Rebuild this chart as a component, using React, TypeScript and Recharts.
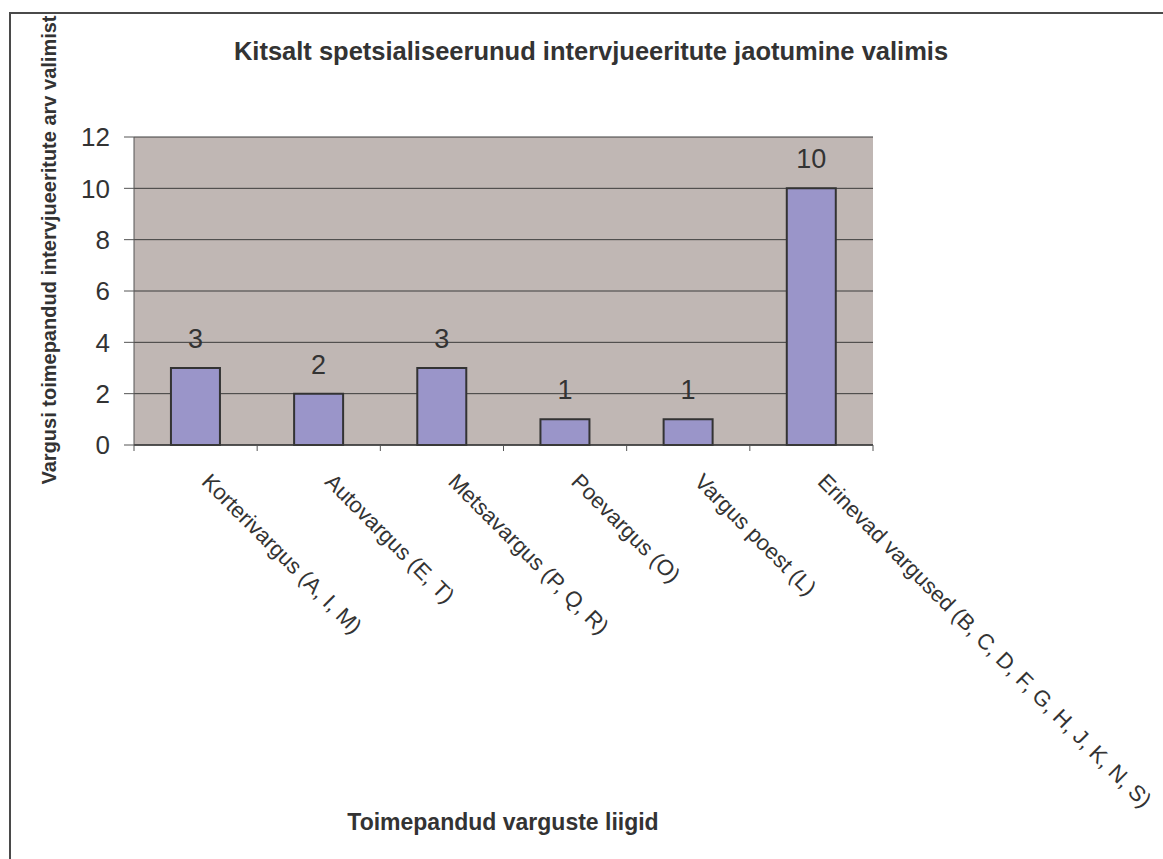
import { Bar, BarChart, CartesianGrid, LabelList, XAxis, YAxis } from "recharts";

const categories = [
  "Korterivargus (A, I, M)",
  "Autovargus (E, T)",
  "Metsavargus (P, Q, R)",
  "Poevargus (O)",
  "Vargus poest (L)",
  "Erinevad vargused (B, C, D, F, G, H, J, K, N, S)",
];
const counts = [3, 2, 3, 1, 1, 10];
const yTicks = [0, 2, 4, 6, 8, 10, 12];

const data = categories.map((name, i) => ({ name, value: counts[i] }));

const FONT = '"Liberation Sans", Arial, sans-serif';
const INK = "#333333";

function CategoryTick({ x, y, payload }: any) {
  const px = x + 5;
  const py = y + 28;
  return (
    <text
      x={px}
      y={py}
      transform={`rotate(45, ${px}, ${py})`}
      textAnchor="start"
      fontSize={22}
      fontFamily={FONT}
      fill={INK}
    >
      {payload.value}
    </text>
  );
}

// tick marks sit between categories, Excel style
function EdgeTick({ x, y, payload, index }: any) {
  const half = payload.offset ?? 0;
  const last = index === categories.length - 1;
  return (
    <g stroke="#555" strokeWidth={1}>
      <line x1={x - half} x2={x - half} y1={y} y2={y + 6} />
      {last && <line x1={x + half} x2={x + half} y1={y} y2={y + 6} />}
    </g>
  );
}

export default function App() {
  return (
    <div style={{ position: "absolute", left: 0, top: 0, width: 1163, height: 859, background: "#fff" }}>
      <div
        style={{
          position: "absolute",
          left: 9,
          top: 12,
          width: 1154,
          height: 847,
          borderTop: "2px solid #4a4a4a",
          borderLeft: "2px solid #4a4a4a",
          boxSizing: "border-box",
        }}
      />
      <div style={{ position: "absolute", left: 0, top: 0 }}>
        <BarChart
          width={1163}
          height={859}
          data={data}
          barCategoryGap="30%"
          margin={{ top: 137, right: 290, left: 74, bottom: 114 }}
        >
          <CartesianGrid vertical={false} stroke="#3c3c3c" fill="#C0B7B4" yAxisId="left" xAxisId="b" />
          <XAxis
            xAxisId="b"
            dataKey="name"
            interval={0}
            height={300}
            tickSize={0}
            tickMargin={0}
            tickLine={false}
            axisLine={{ stroke: "#3c3c3c", strokeWidth: 1.5 }}
            tick={(p: any) => (
              <g>
                <EdgeTick {...p} />
                <CategoryTick {...p} y={p.y + 10} />
              </g>
            )}
          />
          <YAxis
            yAxisId="left"
            domain={[0, 12]}
            ticks={yTicks}
            width={60}
            tickSize={10}
            tickMargin={14}
            stroke="#555"
            tick={{ fill: INK, fontSize: 26, fontFamily: FONT }}
          />
          <YAxis
            yAxisId="right"
            orientation="right"
            domain={[0, 12]}
            width={0}
            tick={false}
            tickLine={false}
            axisLine={{ stroke: "#8a8a8a" }}
          />
          <Bar
            dataKey="value"
            xAxisId="b"
            yAxisId="left"
            fill="#9A95C9"
            stroke="#333"
            strokeWidth={2}
            isAnimationActive={false}
          >
            <LabelList dataKey="value" position="top" offset={20} fill={INK} fontSize={27} fontFamily={FONT} />
          </Bar>
        </BarChart>
      </div>
      <svg width={1163} height={859} style={{ position: "absolute", left: 0, top: 0, pointerEvents: "none" }}>
        <text x={591} y={60} textAnchor="middle" fontFamily={FONT} fontWeight="bold" fontSize={25.5} fill={INK}>
          Kitsalt spetsialiseerunud intervjueeritute jaotumine valimis
        </text>
        <text
          x={56}
          y={250}
          transform="rotate(-90, 56, 250)"
          textAnchor="middle"
          fontFamily={FONT}
          fontWeight="bold"
          fontSize={20}
          fill={INK}
        >
          Vargusi toimepandud intervjueeritute arv valimist
        </text>
        <text x={503} y={830} textAnchor="middle" fontFamily={FONT} fontWeight="bold" fontSize={23} fill={INK}>
          Toimepandud varguste liigid
        </text>
      </svg>
    </div>
  );
}
